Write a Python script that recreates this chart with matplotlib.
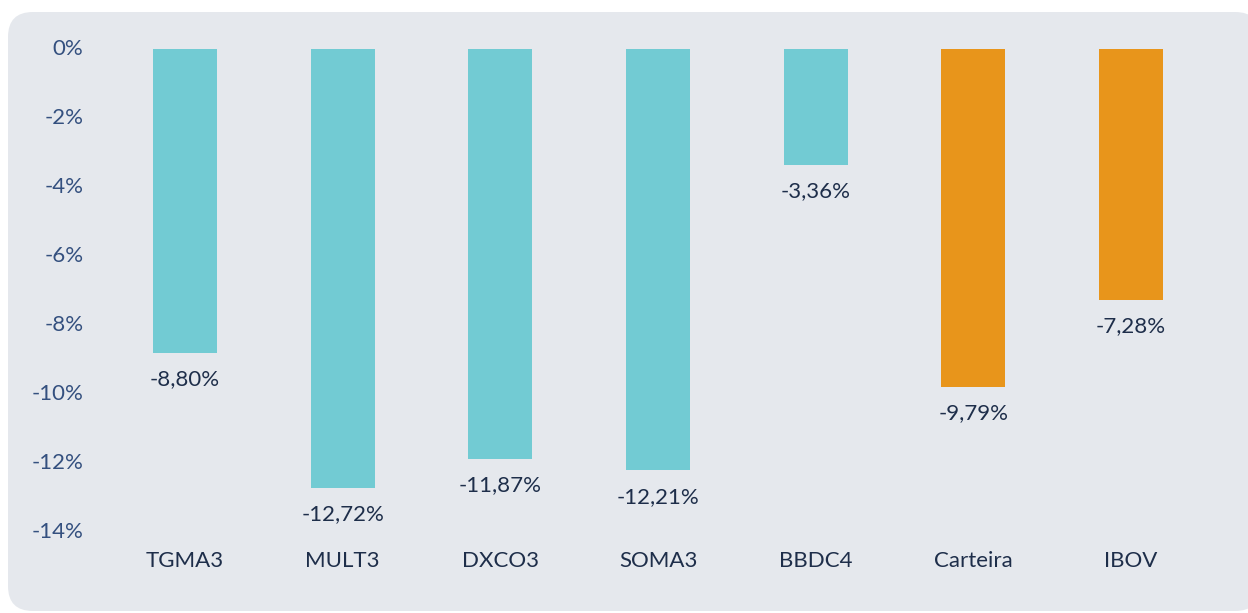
import matplotlib
matplotlib.use("Agg")
import matplotlib.pyplot as plt
from matplotlib.patches import FancyBboxPatch
from matplotlib.ticker import FixedLocator

categories = ["TGMA3", "MULT3", "DXCO3", "SOMA3", "BBDC4", "Carteira", "IBOV"]
values = [-8.80, -12.72, -11.87, -12.21, -3.36, -9.79, -7.28]
bar_colors = ["#72CBD3"] * 5 + ["#E8951B"] * 2
yticks = [0, -2, -4, -6, -8, -10, -12, -14]

plt.rcParams['font.family'] = ['Lato', 'DejaVu Sans']

W, H = 1248, 613
fig = plt.figure(figsize=(W / 100, H / 100), dpi=100, facecolor="white")

bg = FancyBboxPatch((8 / W, 2 / H), (1260 - 8) / W, (601 - 2) / H,
                    boxstyle="round,pad=0,rounding_size=0.02",
                    transform=fig.transFigure, facecolor="#E5E8ED",
                    edgecolor="none", zorder=-5, mutation_aspect=W / H)
fig.patches.append(bg)

left, right, top, bottom = 106.2, 1209.8, 49, 532
ax = fig.add_axes([left / W, 1 - bottom / H, (right - left) / W, (bottom - top) / H])
ax.set_zorder(2)
ax.set_facecolor("none")
x = list(range(len(categories)))
ax.bar(x, values, width=0.406, color=bar_colors, zorder=2)
ax.set_xlim(-0.5, len(categories) - 0.5)
ax.set_ylim(-14, 0)
ax.yaxis.set_major_locator(FixedLocator(yticks))
ax.set_yticklabels([f"{t}%" for t in yticks], color="#34507F", fontsize=16,
                   va="center")
ax.set_xticks(x)
ax.set_xticklabels(categories, color="#1E2E4A", fontsize=16)
ax.tick_params(axis="y", length=0, pad=16.5)
ax.tick_params(axis="x", length=0, pad=14)
for s in ax.spines.values():
    s.set_visible(False)

for xi, v in zip(x, values):
    ax.annotate(f"{v:.2f}%".replace(".", ","), (xi, v), xytext=(0, -19),
                textcoords="offset points", ha="center", va="center",
                fontsize=16, color="#1E2E4A")

fig.savefig("out.png", dpi=100, facecolor="white")
